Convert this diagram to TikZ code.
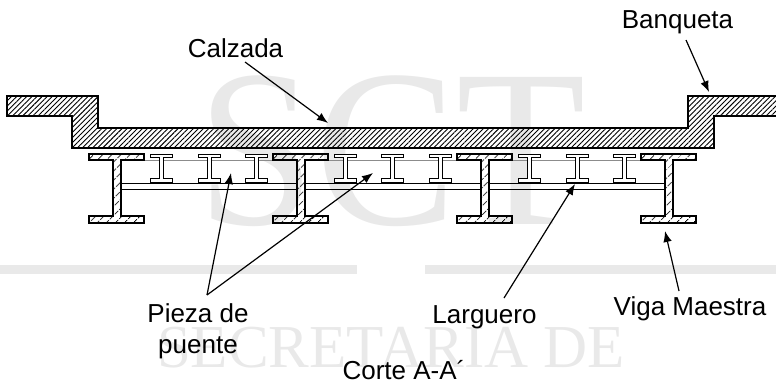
\documentclass[tikz,border=0pt]{standalone}
\usepackage{fontspec}
\usetikzlibrary{patterns.meta,arrows.meta}
\setmainfont{Liberation Sans}
\newfontfamily\wmfont{Liberation Serif}
\definecolor{wm}{gray}{0.915}
\tikzset{
  x=1pt,y=-1pt,
  slabpart/.style={draw=black,line width=1.4pt,line join=miter,pattern={Lines[angle=45,distance=3.6pt,line width=.9pt]},pattern color=black},
  beampart/.style={draw=black,line width=1.4pt,line join=miter,pattern={Lines[angle=45,distance=6.5pt,line width=.8pt]},pattern color=black},
  bayline/.style={draw=black,line width=.9pt},
  faintline/.style={draw=black!45,line width=.5pt},
  smallI/.style={draw=black,line width=.9pt,fill=white},
  lbl/.style={font=\fontsize{26pt}{31pt}\selectfont,inner sep=0pt,align=center,anchor=base},
  lead/.style={draw=black,line width=1.2pt,-{Latex[length=11pt,width=8.5pt]}},
  wmark/.style={text=wm,inner sep=0pt,anchor=base}
}
\newcommand{\bigbeam}[1]{%
  \draw[beampart] (#1-24,154)--(#1+31,154)--(#1+31,160)--(#1+8,160)--(#1+8,216)--(#1+31,216)--(#1+31,223)--(#1-24,223)--(#1-24,216)--(#1,216)--(#1,160)--(#1-24,160)--cycle;}
\newcommand{\smallbeam}[1]{%
  \draw[smallI] (#1-11,154.5)--(#1+11,154.5)--(#1+11,157.5)--(#1+2,157.5)--(#1+2,178.5)--(#1+11,178.5)--(#1+11,182)--(#1-11,182)--(#1-11,178.5)--(#1-2,178.5)--(#1-2,157.5)--(#1-11,157.5)--cycle;}
\begin{document}
\begin{tikzpicture}
\useasboundingbox (0,0) rectangle (776,383);
% watermark
\node[wmark,font=\wmfont\fontsize{212pt}{212pt}\selectfont,yscale=1.06] (wmS) at (392,224) {SCT};
\fill[wm] (0,265) rectangle (357,274);
\fill[wm] (425,265) rectangle (776,274);
\node[wmark,font=\wmfont\fontsize{61pt}{61pt}\selectfont] (wmT) at (391,367) {SECRETARIA DE};
% bay lines
\foreach \a/\b in {121/297,305/481,489/665}{
  \draw[bayline] (\a,183)--(\b,183);
  \draw[bayline] (\a,189)--(\b,189);
}
\foreach \a/\b in {144/273,328/457,512/641}{
  \draw[faintline] (\a,160)--(\b,160);
}
\foreach \c in {161,209,256,345,392,440,529,577,624}{\smallbeam{\c}}
\foreach \c in {113,297,481,665}{\bigbeam{\c}}
% slab
\draw[slabpart] (7,96)--(98,96)--(98,128)--(688,128)--(688,96)--(779,96)--(779,116)--(714,116)--(714,148)--(72,148)--(72,116)--(7,116)--cycle;
% labels
\node[lbl] (calzada) at (235.5,57) {Calzada};
\node[lbl] (banqueta) at (677.5,28) {Banqueta};
\node[lbl,anchor=center] (pieza) at (198,331) {Pieza de\\puente};
\node[lbl] (larguero) at (484.5,323) {Larguero};
\node[lbl] (viga) at (690,315) {Viga Maestra};
\node[lbl] (corte) at (404,379) {Corte A-A´};
\coordinate (cz0) at (245,62);
\coordinate (cz1) at (328,123);
\coordinate (bq0) at (686,40);
\coordinate (bq1) at (709,92);
\coordinate (pz) at (207,295);
\coordinate (pz1) at (231,173);
\coordinate (pz2) at (373,173);
\coordinate (lg0) at (504,298);
\coordinate (lg1) at (575,184);
\coordinate (vg0) at (679,291);
\coordinate (vg1) at (665,231);
\draw[lead] (cz0) -- (cz1);
\draw[lead] (bq0) -- (bq1);
\draw[lead] (pz) -- (pz1);
\draw[lead] (pz) -- (pz2);
\draw[lead] (lg0) -- (lg1);
\draw[lead] (vg0) -- (vg1);
\end{tikzpicture}
\end{document}
